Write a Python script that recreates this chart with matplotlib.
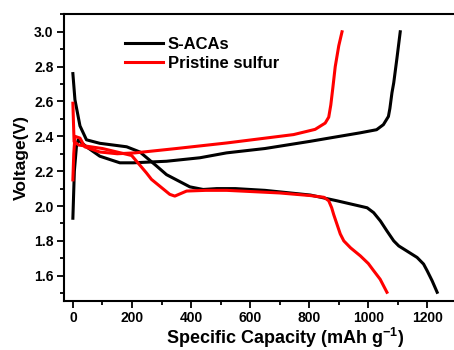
import numpy as np
import matplotlib
matplotlib.use('Agg')
from matplotlib import pyplot as plt
from matplotlib.ticker import MultipleLocator

plt.rcParams['font.family'] = 'Liberation Sans'
plt.rcParams['font.weight'] = 'bold'
plt.rcParams['mathtext.fontset'] = 'custom'
plt.rcParams['mathtext.bf'] = 'Liberation Sans:bold'
plt.rcParams['mathtext.default'] = 'bf'

# S-ACAs discharge / charge (capacity mAh/g, voltage V)
sacas_dis_cap = [0, 7, 24, 46, 91, 182, 227, 283, 317, 396, 441, 487, 550, 650, 804, 894, 996,
                 1018, 1041, 1063, 1086, 1103, 1120, 1165, 1187, 1199, 1216, 1233]
sacas_dis_v = [2.76, 2.61, 2.46, 2.38, 2.36, 2.34, 2.31, 2.23, 2.18, 2.11, 2.095, 2.10, 2.10, 2.09, 2.063, 2.03, 1.99,
               1.962, 1.914, 1.857, 1.80, 1.771, 1.753, 1.705, 1.667, 1.629, 1.571, 1.505]
sacas_chg_cap = [0, 5, 12, 18, 46, 91, 159, 204, 317, 430, 520, 650, 802, 871, 972, 1028, 1051, 1068, 1073,
                 1080, 1086, 1097, 1108]
sacas_chg_v = [1.93, 2.20, 2.34, 2.38, 2.34, 2.286, 2.248, 2.248, 2.257, 2.277, 2.305, 2.33, 2.371, 2.391, 2.42, 2.438, 2.467, 2.514, 2.56,
               2.65, 2.707, 2.85, 3.0]

# pristine sulfur discharge / charge
sulf_dis_cap = [0, 4, 20, 100, 199, 249, 266, 328, 345, 385, 450, 521, 700, 804, 850, 866, 876, 883, 894,
                905, 917, 940, 973, 1000, 1018, 1040, 1063]
sulf_dis_v = [2.59, 2.37, 2.35, 2.33, 2.29, 2.19, 2.153, 2.067, 2.057, 2.086, 2.09, 2.09, 2.075, 2.06, 2.05, 2.03, 1.99, 1.95, 1.895,
              1.84, 1.80, 1.76, 1.714, 1.67, 1.629, 1.58, 1.505]
sulf_chg_cap = [0, 3, 7, 24, 40, 91, 150, 210, 350, 521, 747, 820, 854, 866, 873, 880, 888, 900, 911]
sulf_chg_v = [2.15, 2.30, 2.40, 2.39, 2.34, 2.31, 2.30, 2.305, 2.33, 2.362, 2.41, 2.44, 2.476, 2.51, 2.58, 2.68, 2.8, 2.92, 3.0]

fig = plt.figure(figsize=(4.54, 3.5), dpi=100)
ax = fig.add_axes([0.141, 0.14, 0.859, 0.819])

ax.plot(sacas_dis_cap, sacas_dis_v, color='black', lw=2.2, label='S-ACAs')
ax.plot(sacas_chg_cap, sacas_chg_v, color='black', lw=2.2)
ax.plot(sulf_dis_cap, sulf_dis_v, color='red', lw=2.2, label='Pristine sulfur')
ax.plot(sulf_chg_cap, sulf_chg_v, color='red', lw=2.2)

ax.set_xlim(-30, 1290)
ax.set_ylim(1.455, 3.1)
ax.xaxis.set_minor_locator(MultipleLocator(100))
ax.yaxis.set_minor_locator(MultipleLocator(0.1))
ax.set_xticks([0, 200, 400, 600, 800, 1000, 1200])
ax.set_yticks([1.6, 1.8, 2.0, 2.2, 2.4, 2.6, 2.8, 3.0])
ax.tick_params(which='major', direction='out', length=5, width=1.3, labelsize=10, pad=2.5)
ax.tick_params(which='minor', direction='out', length=3, width=1.3)
ax.spines['right'].set_visible(False)
for s in ['left', 'bottom', 'top']:
    ax.spines[s].set_linewidth(1.5)

ax.set_xlabel(r'Specific Capacity (mAh g$^{\mathbf{-1}}$)', fontsize=13, fontweight='bold')
ax.xaxis.set_label_coords(0.567, -0.086)
ax.set_ylabel('Voltage(V)', fontsize=12.5, fontweight='bold', labelpad=4)

ax.legend(loc='upper left', bbox_to_anchor=(0.117, 0.975), frameon=False,
          fontsize=12, handlelength=2.3, handletextpad=0.3, labelspacing=0.25)

fig.savefig('out.png', dpi=100)
